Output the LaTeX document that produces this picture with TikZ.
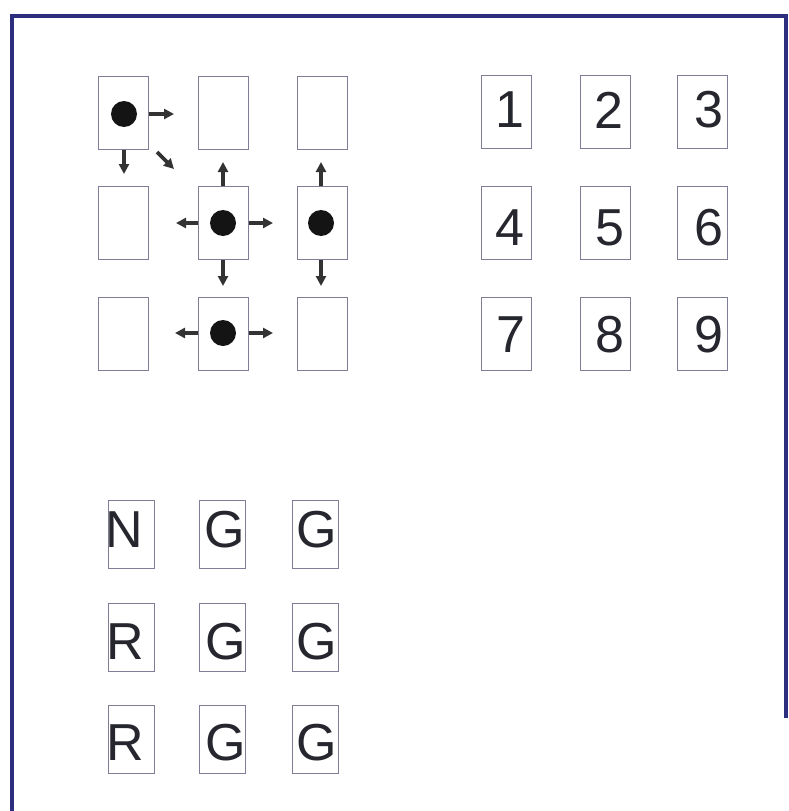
\documentclass[tikz,border=0pt]{standalone}
\usepackage{fontspec}
\setmainfont{Liberation Sans}
\usetikzlibrary{arrows.meta}
\definecolor{framec}{HTML}{2E2E7E}
\definecolor{cellc}{HTML}{7E7E96}
\definecolor{inkc}{HTML}{26262E}
\definecolor{arrc}{HTML}{333333}
\begin{document}
\begin{tikzpicture}[x=1pt,y=-1pt,
  cell/.style={draw=cellc, line width=1pt, minimum width=50pt, minimum height=73pt, inner sep=0pt},
  lcell/.style={cell, minimum width=46pt, minimum height=68pt},
  blob/.style={circle, fill=black!92, minimum size=26pt, inner sep=0pt},
  num/.style={font=\fontsize{52}{52}\selectfont, text=inkc, inner sep=0pt},
  ltr/.style={font=\fontsize{52}{52}\selectfont, text=inkc, inner sep=0pt},
  mv/.style={arrc, line width=3.6pt, -{Triangle[length=10pt,width=10pt]}}]
\useasboundingbox (0,0) rectangle (789,811);
\fill[white] (0,0) rectangle (789,811);
% frame
\draw[framec, line width=4pt] (786,718) -- (786,16) -- (12,16) -- (12,811);
% left grid
\node[cell] (a11) at (123,113) {};
\node[cell] (a12) at (223,113) {};
\node[cell] (a13) at (322,113) {};
\node[cell] (a21) at (123,223) {};
\node[cell] (a22) at (223,223) {};
\node[cell] (a23) at (322,223) {};
\node[cell] (a31) at (123,334) {};
\node[cell] (a32) at (223,334) {};
\node[cell] (a33) at (322,334) {};
\node[blob] (d11) at (124,114) {};
\node[blob] (d22) at (223,223) {};
\node[blob] (d23) at (321,223) {};
\node[blob] (d32) at (223,333) {};
\coordinate (e11) at (174,114);
\coordinate (s11) at (124,174);
\coordinate (q11a) at (157,152);
\coordinate (q11b) at (174,169);
\coordinate (n22) at (223,162);
\coordinate (w22) at (176,223);
\coordinate (e22) at (273,223);
\coordinate (s22) at (223,286);
\coordinate (n23) at (321,162);
\coordinate (s23) at (321,286);
\coordinate (w32) at (175,333);
\coordinate (e32) at (273,333);
\draw[mv] (a11.east |- d11) -- (e11);
\draw[mv] (a11.south -| d11) -- (s11);
\draw[mv] (q11a) -- (q11b);
\draw[mv] (a22.north -| d22) -- (n22);
\draw[mv] (a22.west |- d22) -- (w22);
\draw[mv] (a22.east |- d22) -- (e22);
\draw[mv] (a22.south -| d22) -- (s22);
\draw[mv] (a23.north -| d23) -- (n23);
\draw[mv] (a23.south -| d23) -- (s23);
\draw[mv] (a32.west |- d32) -- (w32);
\draw[mv] (a32.east |- d32) -- (e32);
% right grid
\node[cell] (b11) at (506,112) {};
\node[cell] (b12) at (605,112) {};
\node[cell] (b13) at (702,112) {};
\node[cell] (b21) at (506,223) {};
\node[cell] (b22) at (605,223) {};
\node[cell] (b23) at (702,223) {};
\node[cell] (b31) at (506,334) {};
\node[cell] (b32) at (605,334) {};
\node[cell] (b33) at (702,334) {};
\node[num] (t1) at (510,110) {1};
\node[num] (t2) at (609,110) {2};
\node[num] (t3) at (709,110) {3};
\node[num] (t4) at (510,228) {4};
\node[num] (t5) at (610,228) {5};
\node[num] (t6) at (709,228) {6};
\node[num] (t7) at (511,335) {7};
\node[num] (t8) at (610,335) {8};
\node[num] (t9) at (709,335) {9};
% letter grid
\node[lcell] (c11) at (131,534) {};
\node[lcell] (c12) at (222.5,534) {};
\node[lcell] (c13) at (315,534) {};
\node[lcell] (c21) at (131,637) {};
\node[lcell] (c22) at (222.5,637) {};
\node[lcell] (c23) at (315,637) {};
\node[lcell] (c31) at (131,739.5) {};
\node[lcell] (c32) at (222.5,739.5) {};
\node[lcell] (c33) at (315,739.5) {};
\node[ltr] (l11) at (124,530) {N};
\node[ltr] (l12) at (225,530) {G};
\node[ltr] (l13) at (317,530) {G};
\node[ltr] (l21) at (125,642) {R};
\node[ltr] (l22) at (226,642) {G};
\node[ltr] (l23) at (317,642) {G};
\node[ltr] (l31) at (125,743) {R};
\node[ltr] (l32) at (226,743) {G};
\node[ltr] (l33) at (317,743) {G};
\end{tikzpicture}
\end{document}
